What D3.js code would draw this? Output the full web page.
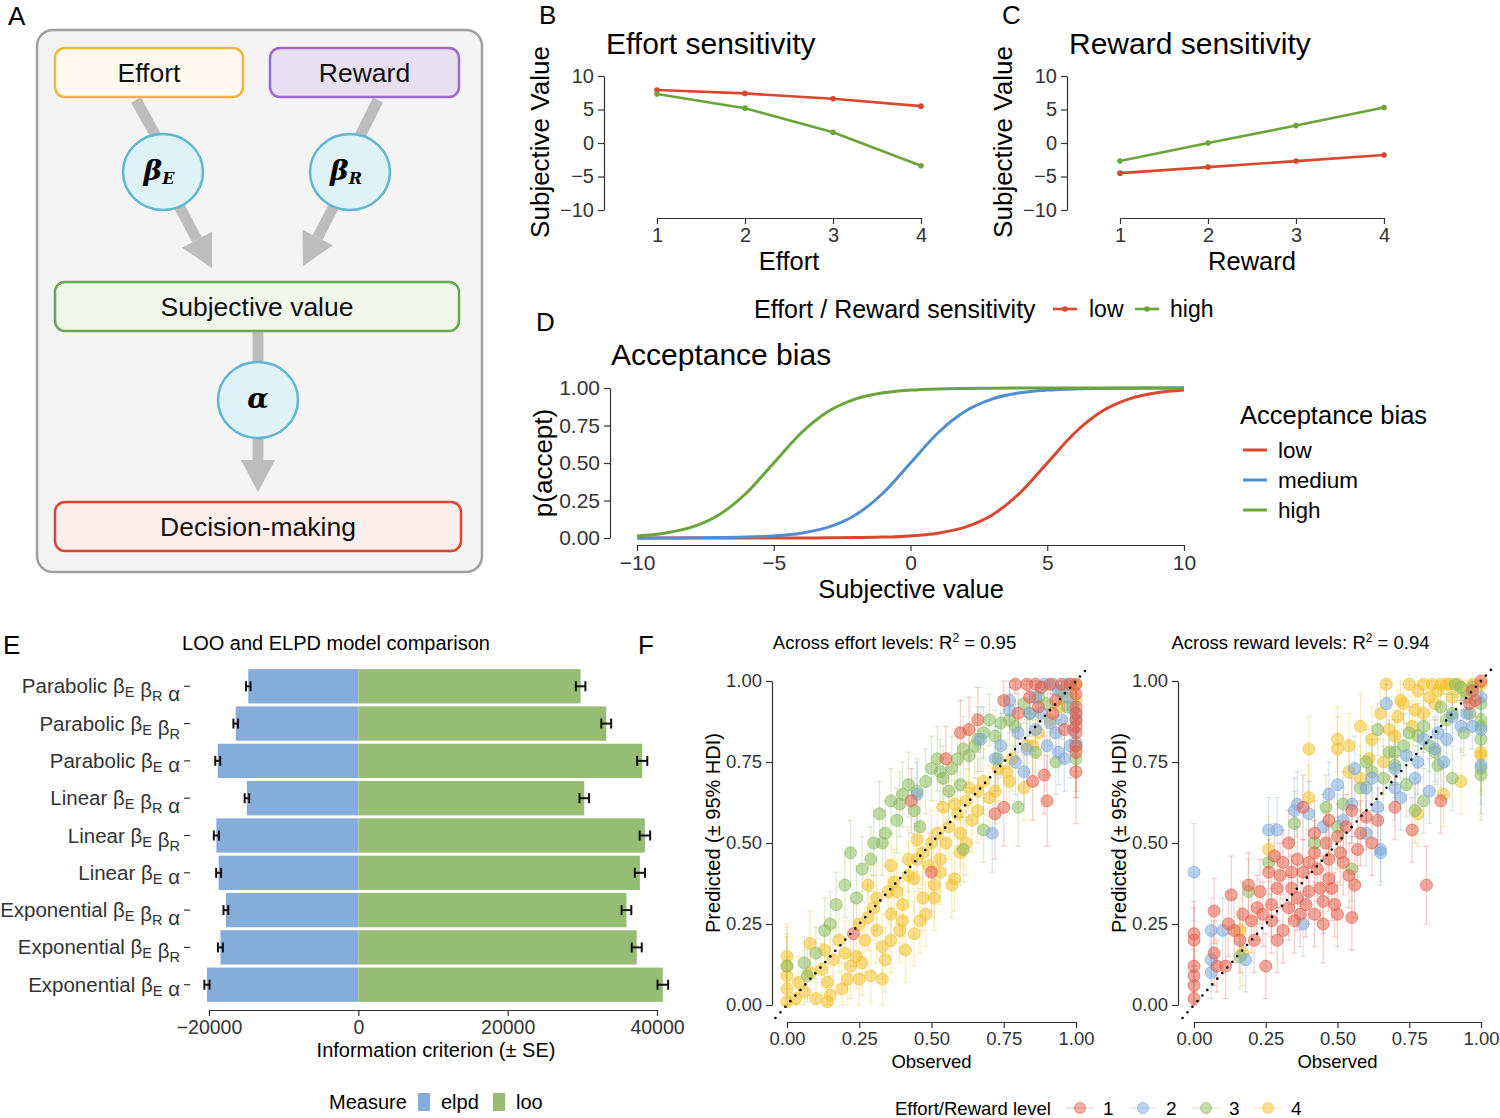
<!DOCTYPE html>
<html>
<head>
<meta charset="utf-8">
<script src="https://cdn.jsdelivr.net/npm/d3@7"></script>
<style>
  body { margin: 0; background: #fff; }
  svg { display: block; font-family: "Liberation Sans", Arial, Helvetica, sans-serif; }
</style>
</head>
<body>
<svg id="fig" width="1500" height="1118"></svg>
<script>
// ---- data ----

// B / C: subjective value per level, low vs high sensitivity
const levelTicks = [1, 2, 3, 4];
const svTicks = [-10, -5, 0, 5, 10];
const sensGroups = ['low', 'high'];
const effortLow = [7.9, 7.4, 6.6, 5.5];
const effortHigh = [7.3, 5.2, 1.6, -3.4];
const rewardLow = [-4.5, -3.6, -2.7, -1.8];
const rewardHigh = [-2.7, 0.0, 2.6, 5.3];

// D: p(accept) along subjective value
const svGrid = [-10, -9, -8, -7, -6, -5, -4, -3, -2, -1, 0, 1, 2, 3, 4, 5, 6, 7, 8, 9, 10];
const pLow = [0, 0, 0, 0, 0, 0.0002, 0.0005, 0.001, 0.003, 0.006, 0.014, 0.032, 0.072, 0.155, 0.30, 0.50, 0.70, 0.845, 0.928, 0.968, 0.986];
const pMedium = [0.0002, 0.0005, 0.001, 0.003, 0.006, 0.014, 0.032, 0.072, 0.155, 0.30, 0.50, 0.70, 0.845, 0.928, 0.968, 0.986, 0.994, 0.997, 0.999, 1, 1];
const pHigh = [0.014, 0.032, 0.072, 0.155, 0.30, 0.50, 0.70, 0.845, 0.928, 0.968, 0.986, 0.994, 0.997, 0.999, 1, 1, 1, 1, 1, 1, 1];
const biasGroups = ['low', 'medium', 'high'];
const pTicks = [0, 0.25, 0.5, 0.75, 1];

// E: model comparison
const modelNames = ['Parabolic', 'Parabolic', 'Parabolic', 'Linear', 'Linear', 'Linear', 'Exponential', 'Exponential', 'Exponential'];
const modelParams = [['E', 'R', 'a'], ['E', 'R'], ['E', 'a'], ['E', 'R', 'a'], ['E', 'R'], ['E', 'a'], ['E', 'R', 'a'], ['E', 'R'], ['E', 'a']];
const elpd = [-14740, -16420, -18830, -14920, -19010, -18710, -17740, -18470, -20270];
const elpdSE = [300, 310, 330, 300, 340, 330, 320, 330, 350];
const loo = [29770, 33200, 38020, 30260, 38380, 37710, 35910, 37290, 40780];
const looSE = [640, 660, 680, 640, 700, 680, 650, 670, 710];
const measures = ['elpd', 'loo'];
const icTicks = [-20000, 0, 20000, 40000];

// F: posterior predictive check, [observed, predicted, HDI half-width]
const fitLevels = [1, 2, 3, 4];
const fitTicks = [0, 0.25, 0.5, 0.75, 1];
const effortFit1 = [[0.79,0.99,0.03],[0.83,0.99,0.03],[0.86,0.99,0.03],[0.88,0.98,0.04],[0.75,0.94,0.06],[0.66,0.88,0.1],[0.6,0.84,0.1],[0.63,0.85,0.1],[0.89,0.71,0.12],[0.9,0.63,0.14],[0.85,0.69,0.12],[0.75,0.61,0.12],[0.72,0.59,0.14],[0.43,0.63,0.1],[0.55,0.76,0.1],[1,0.72,0.16],[1,0.8,0.14],[1,0.84,0.12],[1,0.88,0.1],[1,0.92,0.08],[1,0.96,0.05],[1,0.99,0.02],[0.5,0.41,0.12],[0.23,0.22,0.1],[0.93,0.94,0.05],[0.8,0.9,0.08],
  [0.95,0.99,0.03],[0.98,0.99,0.02],[0.91,0.99,0.03],[0.84,0.95,0.05],[0.92,0.9,0.06],[0.96,0.85,0.1],[1,0.78,0.14],[1,0.86,0.1],[1,0.9,0.09],[0.87,0.92,0.06]];
const effortFit2 = [[0.93,0.84,0.08],[0.94,0.78,0.1],[0.92,0.99,0.03],[0.89,0.99,0.03],[0.97,0.99,0.03],[0.77,0.94,0.06],[0.71,0.53,0.12],[0.96,0.76,0.1],[0.82,0.72,0.1],[0.86,0.85,0.08],[0.99,0.92,0.06],[0.99,0.85,0.08],[0.77,0.91,0.07],[0.67,0.82,0.1],[0.83,0.79,0.1],[0.84,0.9,0.07],[0.45,0.65,0.1],[1,0.81,0.1],[0.9,0.8,0.09],[0.72,0.76,0.1],
  [0.88,0.9,0.06],[0.91,0.87,0.07],[0.95,0.88,0.06],[0.97,0.95,0.04],[0.94,0.97,0.04],[0.8,0.84,0.08],[0.74,0.8,0.1],[0.98,0.8,0.1],[1,0.88,0.08],[1,0.9,0.07],[0.86,0.95,0.05],[0.79,0.75,0.1]];
const effortFit3 = [[0,0.12,0.1],[0.06,0.13,0.08],[0.07,0.09,0.08],[0.13,0.23,0.1],[0.17,0.31,0.1],[0.2,0.37,0.1],[0.22,0.47,0.1],[0.26,0.42,0.1],[0.29,0.45,0.1],[0.33,0.5,0.1],[0.32,0.59,0.1],[0.36,0.63,0.1],[0.4,0.65,0.1],[0.42,0.68,0.1],[0.48,0.69,0.1],[0.5,0.73,0.1],[0.52,0.76,0.1],[0.54,0.7,0.1],[0.59,0.76,0.1],[0.61,0.79,0.1],[0.65,0.8,0.1],[0.68,0.84,0.08],[0.7,0.88,0.08],[0.74,0.87,0.08],[0.77,0.88,0.08],[0.8,0.61,0.12],[0.82,0.93,0.06],[0.87,0.95,0.05],[0.93,0.75,0.1],[1,0.76,0.12],[1,0.8,0.1],[0.68,0.54,0.1],[0.61,0.48,0.1],[0.46,0.55,0.1],[0.38,0.57,0.1],[0.56,0.66,0.1],[0.44,0.6,0.1],
  [0.24,0.33,0.1],[0.3,0.5,0.1],[0.34,0.53,0.1],[0.39,0.62,0.1],[0.45,0.66,0.1],[0.53,0.72,0.1],[0.57,0.73,0.1],[0.63,0.77,0.1],[0.66,0.82,0.1],[0.72,0.83,0.08],[0.79,0.86,0.08],[0.84,0.9,0.07],[0.9,0.93,0.05],[0.95,0.97,0.04],[0.73,0.76,0.1],[0.6,0.68,0.1],[0.86,0.78,0.1],[0.97,0.92,0.05],[0.1,0.16,0.08],[0.15,0.25,0.1]];
const effortFit4 = [[0,0.01,0.08],[0,0.05,0.1],[0,0.09,0.12],[0,0.12,0.12],[0,0.15,0.1],[0.06,0.04,0.06],[0.1,0.02,0.05],[0.14,0.01,0.05],[0.15,0.03,0.06],[0.08,0.1,0.08],[0.14,0.07,0.08],[0.21,0.08,0.08],[0.25,0.08,0.08],[0.33,0.08,0.08],[0.29,0.09,0.08],[0.16,0.14,0.1],[0.22,0.12,0.1],[0.13,0.17,0.1],[0.08,0.19,0.1],[0.18,0.2,0.1],[0.27,0.2,0.1],[0.31,0.23,0.1],[0.36,0.2,0.1],[0.39,0.23,0.1],[0.46,0.26,0.1],[0.28,0.27,0.1],[0.36,0.28,0.1],[0.4,0.31,0.1],[0.47,0.33,0.1],[0.51,0.33,0.1],[0.31,0.33,0.1],[0.28,0.37,0.1],[0.37,0.38,0.1],[0.44,0.39,0.1],[0.51,0.37,0.1],[0.57,0.37,0.1],[0.58,0.39,0.1],[0.36,0.43,0.1],[0.42,0.45,0.1],[0.47,0.47,0.1],[0.53,0.45,0.1],[0.45,0.51,0.1],[0.52,0.53,0.1],[0.56,0.55,0.1],[0.59,0.59,0.1],[0.54,0.61,0.1],[0.62,0.63,0.1],[0.63,0.67,0.1],[0.68,0.69,0.1],[0.73,0.73,0.1],[0.78,0.76,0.1],[0.83,0.8,0.08],[0.91,0.88,0.06],[0.96,0.95,0.04],[0.98,0.98,0.03],[1,0.99,0.02],[1,0.94,0.05],[0.82,0.67,0.1],[0.77,0.69,0.1],[0.34,0.14,0.1],[0.41,0.17,0.1],[0.24,0.15,0.1],[0.44,0.22,0.1],[0.6,0.47,0.1],[0.66,0.6,0.1],
  [0.38,0.35,0.1],[0.42,0.4,0.1],[0.49,0.43,0.1],[0.55,0.5,0.1],[0.6,0.53,0.1],[0.64,0.57,0.1],[0.7,0.64,0.1],[0.66,0.66,0.1],[0.58,0.62,0.1],[0.5,0.5,0.1],[0.45,0.45,0.1],[0.35,0.35,0.1],[0.3,0.3,0.1],[0.25,0.25,0.1],[0.2,0.16,0.1],[0.12,0.11,0.08],[0.04,0.07,0.08],[0.03,0.02,0.06],[0.19,0.05,0.08],[0.26,0.13,0.1],[0.48,0.28,0.1],[0.53,0.41,0.1],[0.62,0.5,0.1],[0.72,0.66,0.1],[0.76,0.72,0.1],[0.87,0.84,0.08],[0.94,0.92,0.05],[0.85,0.8,0.08],[0.4,0.26,0.1],[0.33,0.18,0.1]];
const rewardFit1 = [[0,0.02,0.05],[0,0.06,0.06],[0,0.09,0.08],[0,0.12,0.08],[0,0.2,0.1],[0,0.22,0.1],[0.07,0.16,0.1],[0.07,0.29,0.1],[0.11,0.12,0.1],[0.13,0.34,0.12],[0.14,0.23,0.1],[0.17,0.28,0.1],[0.2,0.26,0.1],[0.21,0.2,0.1],[0.25,0.12,0.1],[0.24,0.28,0.1],[0.27,0.31,0.1],[0.28,0.46,0.1],[0.29,0.36,0.1],[0.31,0.23,0.1],[0.34,0.36,0.1],[0.35,0.26,0.1],[0.38,0.41,0.1],[0.39,0.31,0.1],[0.42,0.28,0.1],[0.42,0.47,0.1],[0.45,0.25,0.12],[0.47,0.39,0.1],[0.49,0.31,0.1],[0.5,0.28,0.1],[0.42,0.53,0.1],[0.47,0.57,0.1],[0.54,0.4,0.1],[0.55,0.27,0.1],[0.56,0.37,0.1],[0.51,0.47,0.1],[0.38,0.61,0.1],[0.47,0.45,0.1],[0.33,0.5,0.1],[0.26,0.41,0.1],[0.19,0.37,0.1],[0.81,0.37,0.12],[0.76,0.54,0.1],[0.86,0.63,0.1],[0.98,0.94,0.05],[1,1,0.02],[0.58,0.53,0.1],[0.64,0.57,0.1],[0.7,0.61,0.1],[0.36,0.33,0.1],[0.44,0.36,0.1],[0.31,0.44,0.1],
  [0.22,0.3,0.1],[0.27,0.26,0.1],[0.3,0.4,0.1],[0.33,0.3,0.1],[0.36,0.45,0.1],[0.4,0.35,0.1],[0.43,0.42,0.1],[0.46,0.5,0.1],[0.48,0.36,0.1],[0.52,0.44,0.1],[0.53,0.55,0.1],[0.57,0.48,0.1],[0.6,0.58,0.1],[0.62,0.5,0.1],[0.45,0.32,0.1],[0.37,0.28,0.1],[0.29,0.2,0.1],[0.23,0.35,0.1],[0.16,0.2,0.1],[0.12,0.25,0.1],[0.4,0.44,0.1],[0.5,0.52,0.1],[0.55,0.6,0.1],[0.34,0.41,0.1],[0.08,0.12,0.08],[0.97,0.97,0.03],[0.96,0.93,0.05]];
const rewardFit2 = [[0,0.41,0.15],[0.06,0.14,0.08],[0.06,0.23,0.1],[0.06,0.1,0.08],[0.1,0.23,0.1],[0.18,0.14,0.1],[0.38,0.25,0.1],[0.26,0.54,0.1],[0.29,0.54,0.1],[0.35,0.6,0.1],[0.36,0.62,0.1],[0.4,0.59,0.1],[0.47,0.65,0.1],[0.5,0.68,0.1],[0.65,0.48,0.1],[0.65,0.47,0.1],[0.64,0.61,0.1],[0.7,0.67,0.1],[0.77,0.7,0.1],[0.82,0.66,0.1],[0.67,0.93,0.06],[0.87,0.75,0.1],[0.93,0.86,0.08],[1,0.74,0.12],[1,0.85,0.1],[1,0.95,0.05],[0.84,0.79,0.1],[0.56,0.73,0.1],
  [0.55,0.62,0.1],[0.6,0.67,0.1],[0.62,0.7,0.1],[0.7,0.73,0.1],[0.74,0.77,0.1],[0.78,0.75,0.1],[0.8,0.82,0.08],[0.85,0.84,0.08],[0.88,0.82,0.08],[0.9,0.89,0.07],[0.95,0.9,0.06],[0.97,0.86,0.07],[0.45,0.55,0.1],[0.52,0.57,0.1],[0.6,0.53,0.1],[0.72,0.64,0.1]];
const rewardFit3 = [[0.19,0.35,0.1],[0.16,0.15,0.1],[0.26,0.44,0.1],[0.35,0.56,0.1],[0.46,0.61,0.1],[0.55,0.42,0.1],[0.58,0.67,0.1],[0.64,0.85,0.08],[0.68,0.78,0.1],[0.73,0.8,0.1],[0.77,0.6,0.1],[0.8,0.63,0.1],[0.84,0.78,0.1],[0.88,0.88,0.08],[0.9,0.7,0.1],[0.93,0.98,0.04],[0.91,0.99,0.04],[1,0.82,0.12],[1,0.86,0.1],[1,0.73,0.14],[1,0.71,0.14],[1,0.88,0.1],[1,0.93,0.08],[0.7,0.78,0.1],[0.52,0.62,0.1],[0.62,0.72,0.1],[0.78,0.83,0.1],
  [0.6,0.75,0.1],[0.66,0.7,0.1],[0.7,0.74,0.1],[0.75,0.84,0.08],[0.8,0.86,0.08],[0.82,0.8,0.08],[0.86,0.92,0.06],[0.9,0.9,0.06],[0.95,0.95,0.04],[0.97,0.98,0.03],[0.94,0.84,0.07],[0.85,0.74,0.1],[0.5,0.55,0.1],[0.42,0.5,0.1],[0.74,0.68,0.1],[0.96,0.9,0.05]];
const rewardFit4 = [[0.26,0.48,0.1],[0.4,0.64,0.1],[0.4,0.79,0.1],[0.5,0.82,0.1],[0.5,0.79,0.1],[0.54,0.8,0.1],[0.58,0.86,0.1],[0.67,0.99,0.04],[0.68,0.85,0.1],[0.71,0.89,0.08],[0.75,0.99,0.04],[0.77,0.91,0.08],[0.8,0.99,0.03],[0.83,0.99,0.03],[0.86,0.99,0.03],[0.88,0.99,0.03],[0.89,0.99,0.03],[0.82,0.95,0.05],[0.93,0.69,0.1],[1,0.77,0.12],[1,0.78,0.12],[1,0.99,0.02],[0.54,0.72,0.1],[0.78,0.59,0.1],[0.87,0.65,0.1],[0.61,0.76,0.1],[0.16,0.23,0.1],[0.17,0.16,0.1],[0.72,0.94,0.06],[0.92,0.99,0.03],
  [0.62,0.82,0.1],[0.65,0.9,0.08],[0.7,0.83,0.08],[0.73,0.93,0.06],[0.78,0.97,0.04],[0.8,0.9,0.06],[0.84,0.93,0.05],[0.9,0.95,0.04],[0.94,0.97,0.03],[0.97,0.99,0.02],[0.85,0.97,0.04],[0.76,0.86,0.08],[0.66,0.75,0.1],[0.58,0.7,0.1]];

// ---- drawing ----
const svg = d3.select('#fig');
const RED = '#d9472f', GREEN = '#6aa53b', BLUE = '#4f8ed0';
const fitColors = ['#e3604b', '#7da9dc', '#8dbc60', '#f3c12b'];

function panelLetter(x, y, t) {
  svg.append('text').attr('x', x).attr('y', y).attr('font-size', 26).text(t);
}

function styleAxis(g, size) {
  g.selectAll('text').attr('font-size', size).attr('fill', '#333');
  g.selectAll('line, path').attr('stroke', '#333').attr('stroke-width', 1.2);
}

// Panel A: model diagram
panelLetter(8, 25, 'A');
const diag = svg.append('g');
diag.append('rect').attr('x', 37).attr('y', 30).attr('width', 445).attr('height', 542)
  .attr('rx', 16).attr('fill', '#f4f4f4').attr('stroke', '#a0a0a0').attr('stroke-width', 2.5);

function box(x, y, w, h, fill, stroke, label) {
  diag.append('rect').attr('x', x).attr('y', y).attr('width', w).attr('height', h)
    .attr('rx', 10).attr('fill', fill).attr('stroke', stroke).attr('stroke-width', 2.5);
  diag.append('text').attr('x', x + w / 2).attr('y', y + h / 2).attr('dy', '0.36em')
    .attr('text-anchor', 'middle').attr('font-size', 26.5).attr('fill', '#111').text(label);
}

function arrow(x1, y1, x2, y2, head) {
  const ang = Math.atan2(y2 - y1, x2 - x1);
  const len = head ? 32 : 0;
  const bx = x2 - len * Math.cos(ang), by = y2 - len * Math.sin(ang);
  diag.append('line').attr('x1', x1).attr('y1', y1).attr('x2', bx).attr('y2', by)
    .attr('stroke', '#bdbdbd').attr('stroke-width', 11);
  if (head) {
    const w = 17, px = -Math.sin(ang) * w, py = Math.cos(ang) * w;
    diag.append('path')
      .attr('d', `M${x2},${y2}L${bx + px},${by + py}L${bx - px},${by - py}Z`)
      .attr('fill', '#bdbdbd');
  }
}

arrow(136, 100, 158, 140, false);
arrow(176, 200, 212, 268, true);
arrow(378, 100, 358, 140, false);
arrow(337, 200, 303, 266, true);
arrow(258, 331, 258, 370, false);
arrow(258, 430, 258, 492, true);

box(55, 48, 188, 49, '#fffaf0', '#f0b83a', 'Effort');
box(270, 48, 189, 49, '#e7e0f0', '#9a6cc8', 'Reward');
box(55, 282, 404, 49, '#f2f7ec', '#6aa84f', 'Subjective value');
box(55, 502, 406, 49, '#fdeeee', '#d9472f', 'Decision-making');

function node(cx, cy, sym, sub) {
  diag.append('ellipse').attr('cx', cx).attr('cy', cy).attr('rx', 40).attr('ry', 38)
    .attr('fill', '#dff2f8').attr('stroke', '#5fb8d0').attr('stroke-width', 2.5);
  const t = diag.append('text').attr('x', cx - (sub ? 4 : 0)).attr('y', cy + 8)
    .attr('text-anchor', 'middle').attr('font-family', '"DejaVu Serif", serif')
    .attr('font-weight', 'bold').attr('font-style', 'italic').attr('font-size', 28);
  t.append('tspan').text(sym);
  if (sub) t.append('tspan').attr('font-size', 16).attr('dy', 4).text(sub);
}
node(163, 172, 'β', 'E');
node(350, 172, 'β', 'R');
node(258, 400, 'α', null);

// Panels B and C: sensitivity lines
function sensPanel(ax, letter, title, xTitle, low, high) {
  const x = d3.scaleLinear().domain([1, 4]).range([ax + 53, ax + 317]);
  const y = d3.scaleLinear().domain([-10, 10]).range([210, 76]);
  const g = svg.append('g');
  panelLetter(ax - 65, 24, letter);
  g.append('text').attr('x', ax + 2).attr('y', 54).attr('font-size', 30).text(title);

  const ya = g.append('g').attr('transform', `translate(${ax},0)`)
    .call(d3.axisLeft(y).tickValues(svTicks).tickSize(6).tickSizeOuter(0).tickPadding(4));
  styleAxis(ya, 20);
  const xa = g.append('g').attr('transform', 'translate(0,218)')
    .call(d3.axisBottom(x).tickValues(levelTicks).tickFormat(d3.format('d')).tickSize(6).tickSizeOuter(0).tickPadding(4));
  styleAxis(xa, 20);

  g.append('text').attr('transform', `translate(${ax - 64},142) rotate(-90)`)
    .attr('text-anchor', 'middle').attr('dy', '0.36em').attr('font-size', 26).text('Subjective Value');
  g.append('text').attr('x', (x(1) + x(4)) / 2).attr('y', 270)
    .attr('text-anchor', 'middle').attr('font-size', 25.5).text(xTitle);

  const line = d3.line().x((d, i) => x(levelTicks[i])).y(d => y(d));
  [[low, RED], [high, GREEN]].forEach(([vals, col]) => {
    g.append('path').datum(vals).attr('d', line).attr('fill', 'none')
      .attr('stroke', col).attr('stroke-width', 2.6);
    g.selectAll(null).data(vals).enter().append('circle')
      .attr('cx', (d, i) => x(levelTicks[i])).attr('cy', d => y(d)).attr('r', 2.8).attr('fill', col);
  });
}
sensPanel(604, 'B', 'Effort sensitivity', 'Effort', effortLow, effortHigh);
sensPanel(1067, 'C', 'Reward sensitivity', 'Reward', rewardLow, rewardHigh);

// shared legend for B and C
const lgBC = svg.append('g');
lgBC.append('text').attr('x', 754).attr('y', 318).attr('font-size', 25).text('Effort / Reward sensitivity');
[[1053, RED, 1089], [1135, GREEN, 1170]].forEach(([lx, col, tx], i) => {
  lgBC.append('line').attr('x1', lx).attr('x2', lx + 24).attr('y1', 309).attr('y2', 309)
    .attr('stroke', col).attr('stroke-width', 2.6);
  lgBC.append('circle').attr('cx', lx + 12).attr('cy', 309).attr('r', 2.8).attr('fill', col);
  lgBC.append('text').attr('x', tx).attr('y', 317).attr('font-size', 23).text(sensGroups[i]);
});

// Panel D: acceptance bias curves
(function () {
  const x = d3.scaleLinear().domain([-10, 10]).range([637, 1184]);
  const y = d3.scaleLinear().domain([0, 1]).range([538, 388]);
  const g = svg.append('g');
  panelLetter(536, 331, 'D');
  g.append('text').attr('x', 611).attr('y', 365).attr('font-size', 30).text('Acceptance bias');

  const ya = g.append('g').attr('transform', 'translate(610,0)')
    .call(d3.axisLeft(y).tickValues(pTicks).tickFormat(d3.format('.2f')).tickSize(6).tickSizeOuter(0).tickPadding(4));
  styleAxis(ya, 21);
  const xa = g.append('g').attr('transform', 'translate(0,545)')
    .call(d3.axisBottom(x).tickValues(svTicks).tickSize(6).tickSizeOuter(0).tickPadding(4));
  styleAxis(xa, 21);

  g.append('text').attr('transform', 'translate(543,463) rotate(-90)')
    .attr('text-anchor', 'middle').attr('dy', '0.36em').attr('font-size', 26).text('p(accept)');
  g.append('text').attr('x', 911).attr('y', 598).attr('text-anchor', 'middle')
    .attr('font-size', 25.5).text('Subjective value');

  const line = d3.line().x((d, i) => x(svGrid[i])).y(d => y(d)).curve(d3.curveMonotoneX);
  const series = [pLow, pMedium, pHigh];
  const cols = [RED, BLUE, GREEN];
  series.forEach((s, i) => {
    g.append('path').datum(s).attr('d', line).attr('fill', 'none')
      .attr('stroke', cols[i]).attr('stroke-width', 3);
  });

  g.append('text').attr('x', 1240).attr('y', 424).attr('font-size', 25.5).text('Acceptance bias');
  biasGroups.forEach((name, i) => {
    const yy = 450 + i * 30;
    g.append('line').attr('x1', 1243).attr('x2', 1267).attr('y1', yy).attr('y2', yy)
      .attr('stroke', cols[i]).attr('stroke-width', 3);
    g.append('text').attr('x', 1278).attr('y', yy + 8).attr('font-size', 22.5).text(name);
  });
})();

// Panel E: LOO / ELPD bars
(function () {
  const x = d3.scaleLinear().domain([-20000, 40000]).range([209, 657]);
  const y = d3.scaleBand().domain(d3.range(modelNames.length)).range([668, 1003])
    .paddingInner(0.08).paddingOuter(0.03);
  const g = svg.append('g');
  panelLetter(3, 654, 'E');
  g.append('text').attr('x', 336).attr('y', 650).attr('text-anchor', 'middle')
    .attr('font-size', 20).text('LOO and ELPD model comparison');

  const barCols = { elpd: '#86acd9', loo: '#97bc74' };
  const bw = y.bandwidth();
  modelNames.forEach((name, i) => {
    const yy = y(i);
    g.append('rect').attr('x', x(elpd[i])).attr('y', yy).attr('width', x(0) - x(elpd[i]))
      .attr('height', bw).attr('fill', barCols.elpd);
    g.append('rect').attr('x', x(0)).attr('y', yy).attr('width', x(loo[i]) - x(0))
      .attr('height', bw).attr('fill', barCols.loo);
    [[elpd[i], elpdSE[i]], [loo[i], looSE[i]]].forEach(([v, se]) => {
      const cy = yy + bw / 2;
      g.append('line').attr('x1', x(v - se)).attr('x2', x(v + se)).attr('y1', cy).attr('y2', cy)
        .attr('stroke', '#111').attr('stroke-width', 2);
      [v - se, v + se].forEach(e => g.append('line').attr('x1', x(e)).attr('x2', x(e))
        .attr('y1', cy - 5).attr('y2', cy + 5).attr('stroke', '#111').attr('stroke-width', 2));
    });

    // category label with subscripts
    const cy = yy + bw / 2;
    g.append('line').attr('x1', 184).attr('x2', 190).attr('y1', cy).attr('y2', cy)
      .attr('stroke', '#333').attr('stroke-width', 1.2);
    const t = g.append('text').attr('x', 180).attr('y', cy + 7).attr('text-anchor', 'end')
      .attr('font-size', 20.5).attr('fill', '#333');
    t.append('tspan').text(name);
    modelParams[i].forEach(p => {
      if (p === 'a') {
        t.append('tspan').text(' α');
      } else {
        t.append('tspan').text(' β');
        t.append('tspan').attr('font-size', 14.5).attr('dy', 4).text(p);
        t.append('tspan').attr('dy', -4).text('');
      }
    });
  });

  const xa = g.append('g').attr('transform', 'translate(0,1010)')
    .call(d3.axisBottom(x).tickValues(icTicks).tickFormat(d3.format('d')).tickSize(6).tickSizeOuter(0).tickPadding(4));
  styleAxis(xa, 19.5);
  g.append('text').attr('x', 436).attr('y', 1057).attr('text-anchor', 'middle')
    .attr('font-size', 20).text('Information criterion (± SE)');

  g.append('text').attr('x', 329).attr('y', 1109).attr('font-size', 20).text('Measure');
  [[418, 441], [493, 516]].forEach(([sx, tx], i) => {
    g.append('rect').attr('x', sx).attr('y', 1093).attr('width', 12).attr('height', 18)
      .attr('fill', barCols[measures[i]]);
    g.append('text').attr('x', tx).attr('y', 1109).attr('font-size', 20).text(measures[i]);
  });
})();

// Panel F: predicted vs observed
panelLetter(638, 654, 'F');
function fitPanel(ax, x0, x1, label, r2, sets) {
  const x = d3.scaleLinear().domain([0, 1]).range([x0, x1]);
  const y = d3.scaleLinear().domain([0, 1]).range([1005, 681]);
  const g = svg.append('g');

  const title = g.append('text').attr('x', (x0 + x1) / 2 - 37).attr('y', 649)
    .attr('text-anchor', 'middle').attr('font-size', 18.5);
  title.append('tspan').text(label + ': R');
  title.append('tspan').attr('font-size', 12).attr('dy', -7).text('2');
  title.append('tspan').attr('dy', 7).text(' = ' + r2);

  const ya = g.append('g').attr('transform', `translate(${ax},0)`)
    .call(d3.axisLeft(y).tickValues(fitTicks).tickFormat(d3.format('.2f')).tickSize(6).tickSizeOuter(0).tickPadding(4));
  styleAxis(ya, 18.5);
  const xa = g.append('g').attr('transform', 'translate(0,1022)')
    .call(d3.axisBottom(x).tickValues(fitTicks).tickFormat(d3.format('.2f')).tickSize(6).tickSizeOuter(0).tickPadding(4));
  styleAxis(xa, 18.5);

  g.append('text').attr('transform', `translate(${ax - 59},833) rotate(-90)`)
    .attr('text-anchor', 'middle').attr('dy', '0.36em').attr('font-size', 20).text('Predicted (± 95% HDI)');
  g.append('text').attr('x', (x0 + x1) / 2).attr('y', 1068).attr('text-anchor', 'middle')
    .attr('font-size', 18.5).text('Observed');

  // draw level 4 first so level 1 ends on top
  const order = [3, 2, 1, 0];
  order.forEach(k => {
    const col = fitColors[k];
    sets[k].forEach(d => {
      const px = x(d[0]);
      const lo = Math.max(0, d[1] - d[2]), hi = Math.min(1, d[1] + d[2]);
      g.append('line').attr('x1', px).attr('x2', px).attr('y1', y(lo)).attr('y2', y(hi))
        .attr('stroke', col).attr('stroke-opacity', 0.3).attr('stroke-width', 1.3);
      [lo, hi].forEach(e => g.append('line')
        .attr('x1', px - 3).attr('x2', px + 3).attr('y1', y(e)).attr('y2', y(e))
        .attr('stroke', col).attr('stroke-opacity', 0.3).attr('stroke-width', 1.2));
    });
  });
  order.forEach(k => {
    const col = fitColors[k];
    g.selectAll(null).data(sets[k]).enter().append('circle')
      .attr('cx', d => x(d[0])).attr('cy', d => y(d[1])).attr('r', 6)
      .attr('fill', col).attr('fill-opacity', 0.55)
      .attr('stroke', col).attr('stroke-opacity', 0.65).attr('stroke-width', 1);
  });

  g.append('line').attr('x1', x(-0.04)).attr('y1', y(-0.04)).attr('x2', x(1.035)).attr('y2', y(1.035))
    .attr('stroke', '#000').attr('stroke-width', 2.6).attr('stroke-linecap', 'round')
    .attr('stroke-dasharray', '0,7.5');
}
fitPanel(772, 787, 1076, 'Across effort levels', '0.95', [effortFit1, effortFit2, effortFit3, effortFit4]);
fitPanel(1178, 1194, 1481, 'Across reward levels', '0.94', [rewardFit1, rewardFit2, rewardFit3, rewardFit4]);

// legend for F
const lgF = svg.append('g');
lgF.append('text').attr('x', 895).attr('y', 1115).attr('font-size', 18.5).text('Effort/Reward level');
[1080, 1143, 1206, 1268].forEach((cx, i) => {
  const col = fitColors[i];
  lgF.append('line').attr('x1', cx - 14).attr('x2', cx + 14).attr('y1', 1108).attr('y2', 1108)
    .attr('stroke', col).attr('stroke-opacity', 0.3).attr('stroke-width', 1.3);
  lgF.append('circle').attr('cx', cx).attr('cy', 1108).attr('r', 5.5)
    .attr('fill', col).attr('fill-opacity', 0.5).attr('stroke', col).attr('stroke-opacity', 0.6);
  lgF.append('text').attr('x', cx + 23).attr('y', 1115).attr('font-size', 19).text(fitLevels[i]);
});
</script>
</body>
</html>
